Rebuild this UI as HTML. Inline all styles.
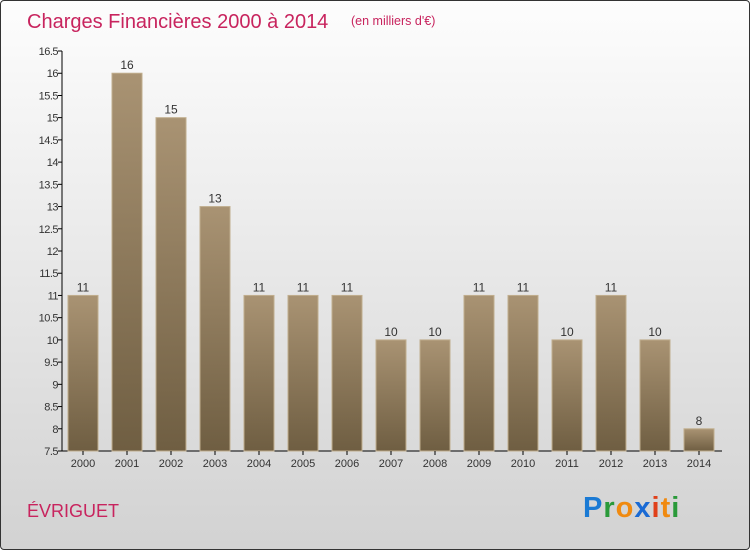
<!DOCTYPE html>
<html><head><meta charset="utf-8"><style>
body{margin:0}
#c{position:relative;width:748px;height:548px;border:1px solid #333;border-radius:4px;background:linear-gradient(#fdfdfd,#d2d2d2);overflow:hidden;font-family:"Liberation Sans",sans-serif}
</style></head><body>
<div id="c">
<svg width="748" height="548" style="position:absolute;left:0;top:0">
<defs><linearGradient id="bg" x1="0" y1="0" x2="0" y2="1"><stop offset="0" stop-color="#a99373"/><stop offset="1" stop-color="#6f5e42"/></linearGradient></defs>
<text x="26" y="27" font-size="20" fill="#c8245e">Charges Financières 2000 à 2014</text>
<text x="350" y="24" font-size="12.5" fill="#c8245e">(en milliers d'€)</text>
<text x="26" y="516" font-size="18" fill="#c8245e">ÉVRIGUET</text>
<g font-size="29" font-weight="bold" font-family="Liberation Sans, sans-serif">
<text x="582" y="516" letter-spacing="1"><tspan fill="#1a7ad4">P</tspan><tspan fill="#2a9a3a">r</tspan><tspan fill="#f08a10">o</tspan><tspan fill="#1a6ad4">x</tspan><tspan fill="#e0401a">i</tspan><tspan fill="#f08a10">t</tspan><tspan fill="#2a9a3a">i</tspan></text></g>
<g id="plot"></g>
</svg>
</div>
<script>
const categories=["2000","2001","2002","2003","2004","2005","2006","2007","2008","2009","2010","2011","2012","2013","2014"];
const values=[11,16,15,13,11,11,11,10,10,11,11,10,11,10,8];
const yTicks=[7.5,8,8.5,9,9.5,10,10.5,11,11.5,12,12.5,13,13.5,14,14.5,15,15.5,16,16.5];
const NS="http://www.w3.org/2000/svg";
const g=document.getElementById('plot');
const yMin=7.5,yMax=16.5,y0=450,y1=50;
const y=v=>y0-(v-yMin)/(yMax-yMin)*(y0-y1);
const x=i=>82+i*44;
function mk(t,a){const e=document.createElementNS(NS,t);for(const k in a)e.setAttribute(k,a[k]);g.appendChild(e);return e;}
let ax=mk('line',{x1:61,y1:50,x2:61,y2:450,stroke:'#000'});


let bx=mk('line',{x1:61,y1:450,x2:721,y2:450,stroke:'#000'});


yTicks.forEach(v=>{
 mk('line',{x1:57,x2:61,y1:y(v),y2:y(v),stroke:'#000'});
 const t=mk('text',{x:57,y:y(v)+4,'text-anchor':'end','font-size':11,fill:'#333','letter-spacing':'-0.5'});
 t.textContent=String(v);
 
 
});
categories.forEach((c,i)=>{
 const v=values[i];
 const r=mk('rect',{x:x(i)-15,y:y(v),width:30,height:y0-y(v),fill:'url(#bg)',stroke:'#c0ae8e','stroke-width':1});
 
 
 mk('line',{x1:x(i),x2:x(i),y1:450,y2:454,stroke:'#000'});
 const l=mk('text',{x:x(i),y:y(v)-4,'text-anchor':'middle','font-size':12,fill:'#333'});
 l.textContent=String(v);
 
 
 const t=mk('text',{x:x(i),y:466,'text-anchor':'middle','font-size':11,fill:'#333'});
 t.textContent=c;
 
 
});
</script>
</body></html>
